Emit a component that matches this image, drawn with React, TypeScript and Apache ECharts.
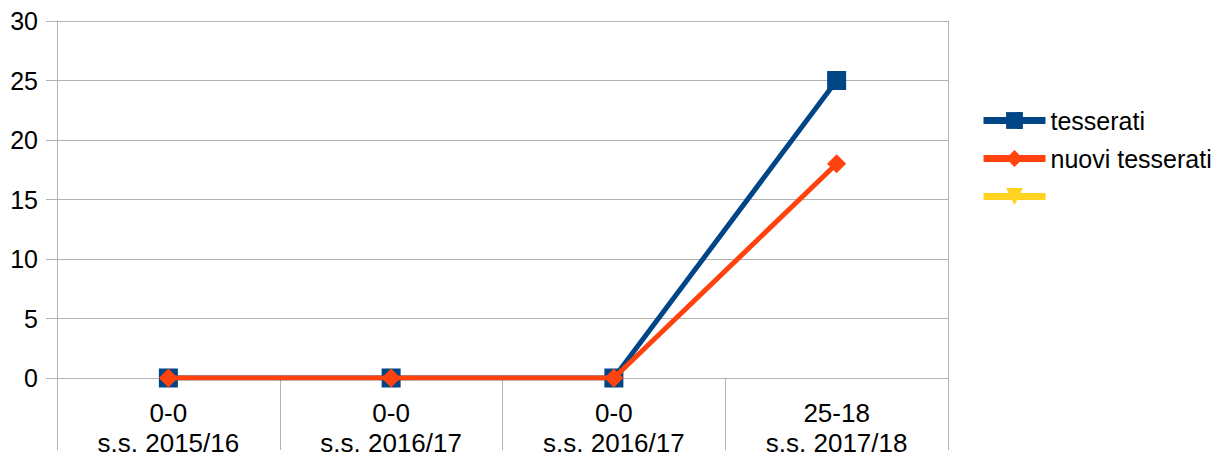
import React, { useEffect, useRef } from "react";
import * as echarts from "echarts";

const categories = ["0-0\ns.s. 2015/16", "0-0\ns.s. 2016/17", "0-0\ns.s. 2016/17", "25-18\ns.s. 2017/18"];
const tesserati = [0, 0, 0, 25];
const nuoviTesserati = [0, 0, 0, 18];
const terzaSerie: (number | null)[] = [null, null, null, null];
const seriesNames = ["tesserati", "nuovi tesserati", " "];
const yMin = 0;
const yMax = 30;
const yInterval = 5;

const FONT = "'Liberation Sans', Arial, sans-serif";
const GRID_COLOR = "#b3b3b3";

export default function App() {
  const ref = useRef<HTMLDivElement>(null);
  useEffect(() => {
    if (!ref.current) return;
    const chart = echarts.init(ref.current, undefined, { renderer: "svg" });
    chart.setOption({
      animation: false,
      backgroundColor: "#ffffff",
      textStyle: { fontFamily: FONT },
      grid: { left: 57, right: 278, top: 21, bottom: 79, containLabel: false, outerBoundsMode: "none" },
      legend: {
        data: seriesNames,
        orient: "vertical",
        left: 975,
        top: 103,
        itemWidth: 62,
        itemHeight: 21,
        itemGap: 13,
        textStyle: { fontSize: 25, color: "#000", fontFamily: FONT, lineHeight: 25 },
        lineStyle: { width: 7 },
      },
      xAxis: {
        type: "category",
        data: categories,
        boundaryGap: true,
        axisLine: { show: true, lineStyle: { color: GRID_COLOR, width: 1 } },
        axisTick: { show: true, length: 72, lineStyle: { color: GRID_COLOR } },
        axisLabel: { color: "#000", fontSize: 26, lineHeight: 30, margin: 20, fontFamily: FONT, interval: 0 },
        splitLine: { show: false },
      },
      yAxis: [
        {
          type: "value",
          min: yMin,
          max: yMax,
          interval: yInterval,
          axisLine: { show: true, lineStyle: { color: GRID_COLOR, width: 1 } },
          axisTick: { show: true, length: 11, lineStyle: { color: GRID_COLOR } },
          axisLabel: { color: "#000", fontSize: 25, margin: 19, fontFamily: FONT },
          splitLine: { show: true, lineStyle: { color: GRID_COLOR, width: 1 } },
        },
        {
          type: "value",
          position: "right",
          min: yMin,
          max: yMax,
          interval: yInterval,
          axisLine: { show: true, lineStyle: { color: GRID_COLOR, width: 1 } },
          axisTick: { show: false },
          axisLabel: { show: false },
          splitLine: { show: false },
        },
      ],
      series: [
        {
          name: seriesNames[0],
          type: "line",
          data: tesserati,
          symbol: "rect",
          symbolSize: 19,
          itemStyle: { color: "#004586" },
          lineStyle: { color: "#004586", width: 5 },
          z: 2,
        },
        {
          name: seriesNames[1],
          type: "line",
          data: nuoviTesserati,
          symbol: "diamond",
          symbolSize: 19,
          itemStyle: { color: "#ff420e" },
          lineStyle: { color: "#ff420e", width: 5 },
          z: 3,
        },
        {
          name: seriesNames[2],
          type: "line",
          data: terzaSerie,
          symbol: "path://M0,0 L10,0 L5,10 Z",
          symbolSize: 19,
          itemStyle: { color: "#ffd320" },
          lineStyle: { color: "#ffd320", width: 5 },
          z: 1,
        },
      ],
    });
    return () => chart.dispose();
  }, []);
  return (
    <div
      ref={ref}
      style={{ position: "fixed", left: 0, top: 0, width: 1226, height: 457 }}
    />
  );
}
